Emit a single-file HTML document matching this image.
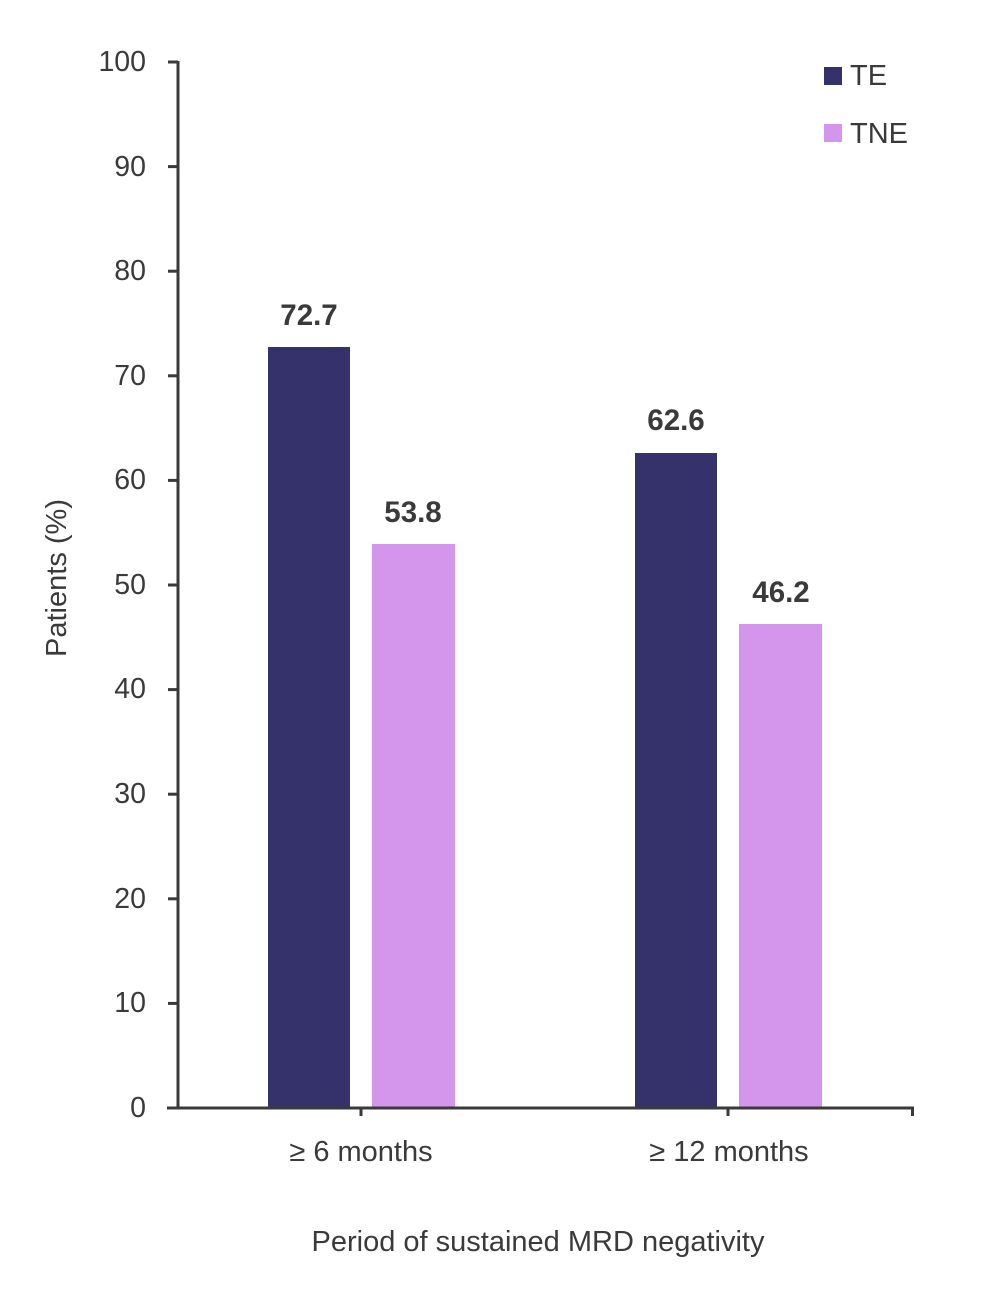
<!DOCTYPE html>
<html><head><meta charset="utf-8"><style>
html,body{margin:0;padding:0;background:#fff;}
svg{display:block;}
text{font-family:"Liberation Sans",sans-serif;fill:#3a3a3a;}
</style></head><body>
<svg width="1000" height="1310" viewBox="0 0 1000 1310" xmlns="http://www.w3.org/2000/svg">
<g fill="#35326b">
<rect x="268" y="347" width="82" height="761"/>
<rect x="635" y="453" width="82" height="655"/>
<rect x="824" y="67" width="18" height="18"/>
</g>
<g fill="#d496ec">
<rect x="372" y="544" width="83" height="564"/>
<rect x="739" y="624" width="83" height="484"/>
<rect x="824" y="124" width="18" height="18"/>
</g>
<g stroke="#3a3a3a" stroke-width="3" fill="none">
<line x1="178" y1="61" x2="178" y2="1108"/>
<line x1="167" y1="1108" x2="914" y2="1108"/>
<line x1="361" y1="1108" x2="361" y2="1116"/>
<line x1="728" y1="1108" x2="728" y2="1116"/>
<line x1="912.5" y1="1108" x2="912.5" y2="1116"/>
<line x1="168" y1="62" x2="178" y2="62"/>
<line x1="168" y1="166.6" x2="178" y2="166.6"/>
<line x1="168" y1="271.2" x2="178" y2="271.2"/>
<line x1="168" y1="375.8" x2="178" y2="375.8"/>
<line x1="168" y1="480.4" x2="178" y2="480.4"/>
<line x1="168" y1="585" x2="178" y2="585"/>
<line x1="168" y1="689.6" x2="178" y2="689.6"/>
<line x1="168" y1="794.2" x2="178" y2="794.2"/>
<line x1="168" y1="898.8" x2="178" y2="898.8"/>
<line x1="168" y1="1003.4" x2="178" y2="1003.4"/>
</g>
<g font-size="28.5" text-anchor="end">
<text x="146" y="71">100</text>
<text x="146" y="176">90</text>
<text x="146" y="280">80</text>
<text x="146" y="385">70</text>
<text x="146" y="489">60</text>
<text x="146" y="594">50</text>
<text x="146" y="698">40</text>
<text x="146" y="803">30</text>
<text x="146" y="908">20</text>
<text x="146" y="1012">10</text>
<text x="146" y="1117">0</text>
</g>
<g font-size="29.5" font-weight="bold" text-anchor="middle">
<text x="309" y="325">72.7</text>
<text x="413" y="522">53.8</text>
<text x="676" y="430">62.6</text>
<text x="781" y="602">46.2</text>
</g>
<g font-size="29" text-anchor="middle">
<text x="361" y="1161">≥ 6 months</text>
<text x="729" y="1161">≥ 12 months</text>
<text x="538" y="1251">Period of sustained MRD negativity</text>
<text transform="translate(66,578) rotate(-90)">Patients (%)</text>
</g>
<g font-size="29">
<text x="850" y="85">TE</text>
<text x="850" y="143">TNE</text>
</g>
</svg>
</body></html>
